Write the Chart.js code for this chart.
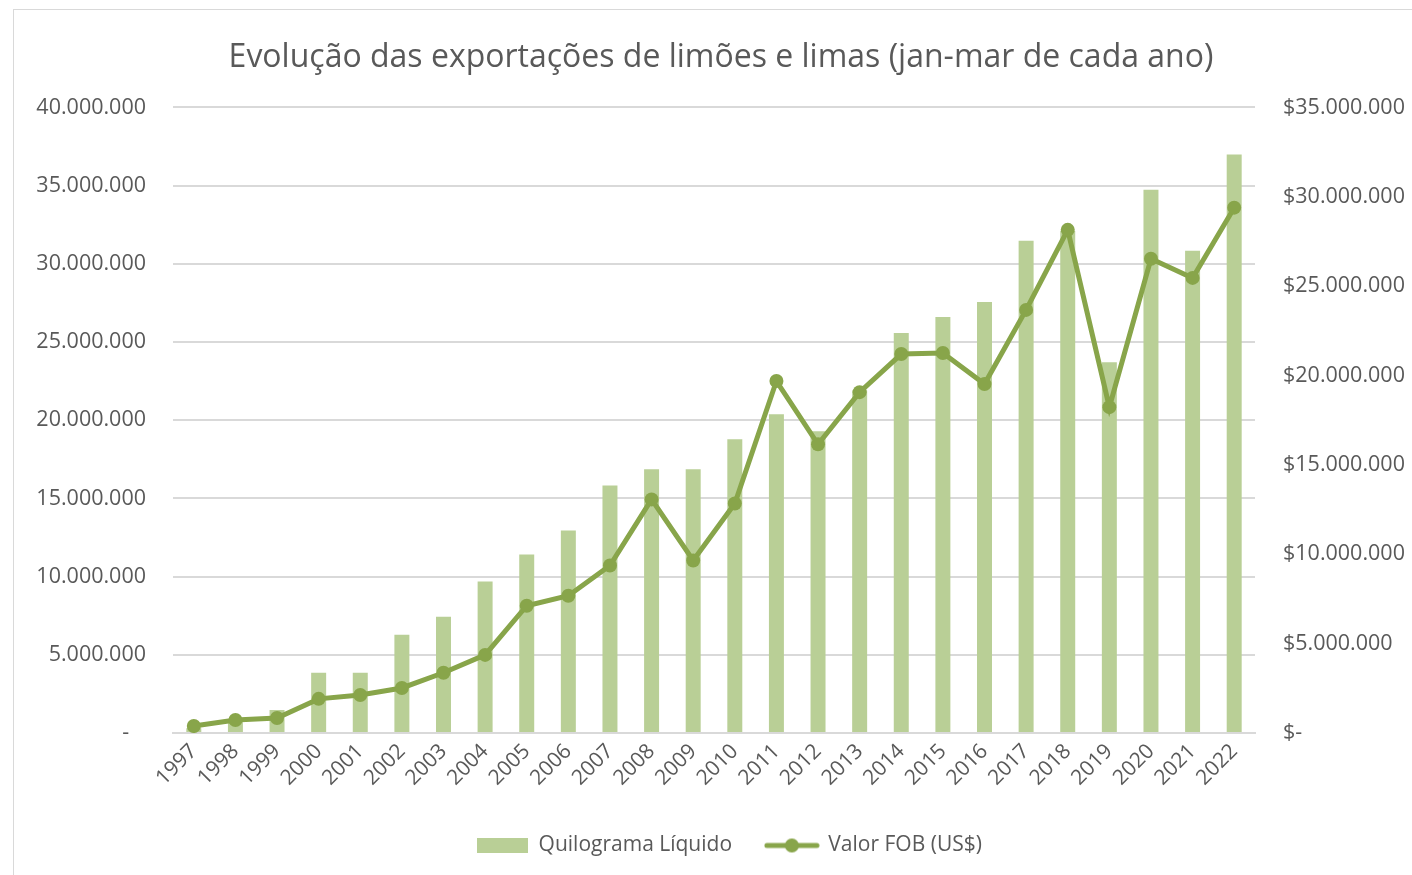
<!DOCTYPE html>
<html>
<head>
<meta charset="utf-8">
<script src="https://cdn.jsdelivr.net/npm/chart.js@4"></script>
<style>
  body { margin: 0; background: #fff; }
  #wrap { position: absolute; left: 0; top: 0; width: 1412px; height: 875px; }
  #frame { position: absolute; left: 13px; top: 9px; width: 1420px; height: 900px; border: 1px solid #d9d9d9; }
</style>
</head>
<body>
<div id="frame"></div>
<div id="wrap"><canvas id="exportChart" width="1412" height="875"></canvas></div>
<script>
// ===== Data =====
const years = ['1997', '1998', '1999', '2000', '2001', '2002', '2003', '2004', '2005', '2006',
    '2007', '2008', '2009', '2010', '2011', '2012', '2013', '2014', '2015', '2016',
    '2017', '2018', '2019', '2020', '2021', '2022'];

// Quilograma Líquido (left axis)
const kgLiquido = [300000, 770000, 1470000, 3850000, 3850000, 6280000, 7440000, 9680000, 11410000, 12950000,
    15830000, 16860000, 16860000, 18780000, 20380000, 19300000, 21900000, 25580000, 26600000, 27560000,
    31470000, 32100000, 23700000, 34740000, 30830000, 36990000];

// Valor FOB (US$) (right axis)
const valorFob = [390000, 730000, 840000, 1910000, 2130000, 2520000, 3370000, 4370000, 7120000, 7680000,
    9370000, 13070000, 9650000, 12840000, 19690000, 16150000, 19070000, 21200000, 21260000, 19520000,
    23670000, 28150000, 18230000, 26530000, 25460000, 29390000];

const leftTicks = [0, 5000000, 10000000, 15000000, 20000000, 25000000, 30000000, 35000000, 40000000];
const rightTicks = [0, 5000000, 10000000, 15000000, 20000000, 25000000, 30000000, 35000000];

// ===== Styles =====
const barColor = '#b9cf96';
const lineColor = '#88a54a';
const textColor = '#595959';
const gridColor = '#d9d9d9';
const fontFamily = "'Open Sans', sans-serif";

function fmtDots(v) {
    return String(Math.round(v)).replace(/\B(?=(\d{3})+(?!\d))/g, '.');
}

// legend swatches
function barSwatch() {
    const c = document.createElement('canvas');
    c.width = 51; c.height = 15;
    const g = c.getContext('2d');
    g.fillStyle = barColor;
    g.fillRect(0, 0, 51, 15);
    return c;
}
function lineSwatch() {
    const c = document.createElement('canvas');
    c.width = 56; c.height = 16;
    const g = c.getContext('2d');
    g.strokeStyle = lineColor;
    g.lineWidth = 5;
    g.lineCap = 'round';
    g.beginPath(); g.moveTo(3, 8); g.lineTo(53, 8); g.stroke();
    g.fillStyle = lineColor;
    g.beginPath(); g.arc(28, 8, 7, 0, Math.PI * 2); g.fill();
    return c;
}

// nudge title and legend to the right, like the original
const blockShift = {
    id: 'blockShift',
    afterLayout(chart) {
        chart.legend.left += 23;
        chart.legend.right += 23;
        chart.titleBlock.left += 15;
        chart.titleBlock.right += 15;
    }
};

function initChart() {
    const ctx = document.getElementById('exportChart');
    Chart.defaults.font.family = fontFamily;
    Chart.defaults.color = textColor;

    const swatches = [lineSwatch(), barSwatch()];

    const data = {
        labels: years,
        datasets: [{
            type: 'line',
            label: 'Valor FOB (US$)',
            data: valorFob,
            yAxisID: 'yRight',
            borderColor: lineColor,
            backgroundColor: lineColor,
            borderWidth: 5,
            pointRadius: 7,
            pointBackgroundColor: lineColor,
            pointBorderWidth: 0,
            tension: 0,
            order: 1
        }, {
            type: 'bar',
            label: 'Quilograma Líquido',
            data: kgLiquido,
            yAxisID: 'yLeft',
            backgroundColor: barColor,
            barPercentage: 0.36,
            categoryPercentage: 1,
            order: 2
        }]
    };

    const config = {
        data: data,
        plugins: [blockShift],
        options: {
            responsive: false,
            animation: false,
            layout: { padding: { left: 0, right: 0, top: 0, bottom: 9 } },
            plugins: {
                title: {
                    display: true,
                    text: 'Evolução das exportações de limões e limas (jan-mar de cada ano)',
                    color: textColor,
                    font: { size: 32, weight: 'normal' },
                    padding: { top: 39, bottom: 30 }
                },
                legend: {
                    position: 'bottom',
                    reverse: true,
                    labels: {
                        usePointStyle: true,
                        pointStyleWidth: 52,
                        color: textColor,
                        font: { size: 21 },
                        padding: 12,
                        generateLabels: function(chart) {
                            return chart.data.datasets.map((ds, i) => ({
                                // extra spaces widen the gap before the next item
                                text: ds.type === 'bar' ? ds.label + '    ' : ds.label,
                                pointStyle: swatches[i],
                                fontColor: textColor,
                                datasetIndex: i,
                                lineWidth: 0,
                                hidden: false
                            }));
                        }
                    }
                },
                tooltip: { enabled: false }
            },
            scales: {
                x: {
                    grid: { display: false, drawTicks: false },
                    border: { color: gridColor, width: 2 },
                    ticks: {
                        color: textColor,
                        font: { size: 21 },
                        minRotation: 45,
                        maxRotation: 45,
                        padding: 6
                    },
                    afterFit: function(scale) { scale.height = 90; }
                },
                yLeft: {
                    position: 'left',
                    min: 0,
                    max: 40000000,
                    afterBuildTicks: function(scale) {
                        scale.ticks = leftTicks.map(v => ({ value: v }));
                    },
                    grid: { color: gridColor, lineWidth: 2, drawTicks: false },
                    border: { display: false },
                    ticks: {
                        color: textColor,
                        font: { size: 21.5 },
                        padding: 27,
                        callback: function(value) {
                            return value === 0 ? '-   ' : fmtDots(value);
                        }
                    },
                    afterFit: function(scale) { scale.width = 173; }
                },
                yRight: {
                    position: 'right',
                    min: 0,
                    max: 35000000,
                    afterBuildTicks: function(scale) {
                        scale.ticks = rightTicks.map(v => ({ value: v }));
                    },
                    grid: { display: false, drawTicks: false },
                    border: { display: false },
                    ticks: {
                        color: textColor,
                        font: { size: 21.5 },
                        padding: 28,
                        callback: function(value) {
                            return value === 0 ? '$-' : '$' + fmtDots(value);
                        }
                    },
                    afterFit: function(scale) { scale.width = 157; }
                }
            }
        }
    };

    new Chart(ctx, config);
}

document.addEventListener('DOMContentLoaded', initChart);
</script>
</body>
</html>
